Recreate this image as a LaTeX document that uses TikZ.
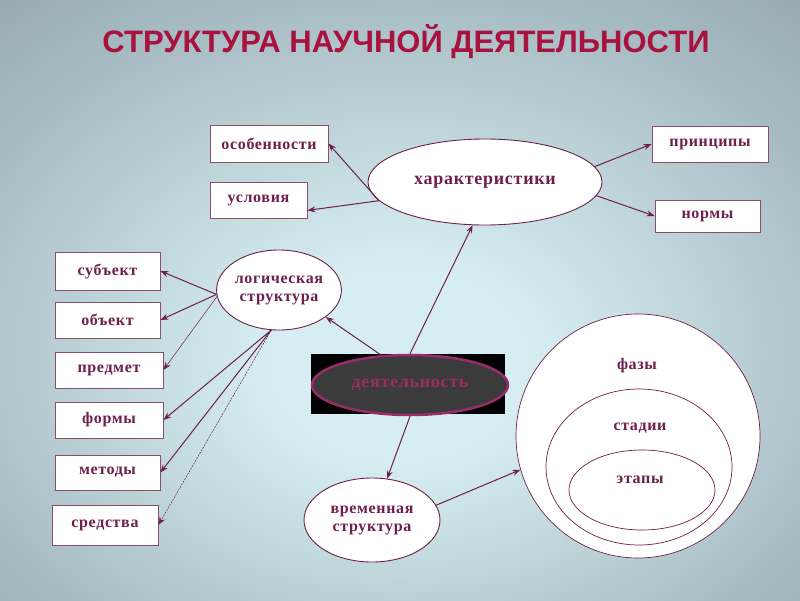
\documentclass[tikz,border=0pt]{standalone}
\usepackage{fontspec}
\setmainfont{Liberation Serif}
\newfontfamily\lsfont[LetterSpace=4]{Liberation Serif}
\newfontfamily\titlefont{Liberation Sans}
\usetikzlibrary{shapes.geometric,arrows.meta}
\definecolor{mag}{HTML}{6E1F4C}
\definecolor{titlec}{HTML}{A8123E}
\definecolor{bgin}{HTML}{D6EEF2}
\definecolor{bgmid}{HTML}{A6BBC1}
\definecolor{bgout}{HTML}{6C7D84}
\definecolor{dring}{HTML}{9A2D68}
\pgfdeclareradialshading{bgshade}{\pgfpoint{0bp}{-6bp}}{color(0bp)=(bgin); color(8bp)=(bgin); color(30bp)=(bgmid); color(60bp)=(bgout); color(80bp)=(bgout)}
\tikzset{
  txt/.style={font=\lsfont\bfseries\fontsize{16}{18}\selectfont, text=mag},
  box/.style={txt, draw=mag!80, line width=0.8pt, fill=white, inner sep=0pt},
  oval/.style={txt, ellipse, draw=mag, line width=0.9pt, fill=white, inner sep=0pt, align=center},
  ring/.style={ellipse, draw=mag, line width=0.7pt, fill=white, inner sep=0pt},
  lbl/.style={txt},
  arr/.style={draw=mag, line width=1pt, -{Stealth[length=8pt,width=6pt]}},
  thinarr/.style={draw=mag, line width=0.5pt, -{Stealth[length=8pt,width=6pt]}}
}
\begin{document}
\begin{tikzpicture}[x=1pt,y=-1pt]
\useasboundingbox (0,0) rectangle (800,600);
\shade[shading=bgshade] (0,0) rectangle (800,600);
\node[font=\titlefont\bfseries\fontsize{31}{34}\selectfont, text=titlec] (title) at (406,42) {СТРУКТУРА НАУЧНОЙ ДЕЯТЕЛЬНОСТИ};

% boxes
\node[box, minimum width=118pt, minimum height=37pt] (osob) at (269,143.5) {особенности};
\node[box, minimum width=97pt, minimum height=36pt] (usl) at (258.5,200) {условия};
\node[box, minimum width=116pt, minimum height=36pt] (princ) at (710,144) {принципы};
\node[box, minimum width=105pt, minimum height=32pt] (norm) at (707.5,216) {нормы};
\node[box, minimum width=105pt, minimum height=38pt] (subj) at (107.5,271) {субъект};
\node[box, minimum width=105pt, minimum height=36pt] (obj) at (107.5,320) {объект};
\node[box, minimum width=108pt, minimum height=36pt] (pred) at (109,370) {предмет};
\node[box, minimum width=108pt, minimum height=36pt] (form) at (109,420) {формы};
\node[box, minimum width=105pt, minimum height=35pt] (met) at (107.5,472.5) {методы};
\node[box, minimum width=106pt, minimum height=40pt] (sred) at (105,525) {средства};

% ovals
\node[oval, minimum width=234pt, minimum height=86pt, font=\lsfont\bfseries\fontsize{18}{21}\selectfont] (char) at (485,182) {характеристики};
\node[oval, minimum width=122pt, minimum height=80pt] (logic) at (279,290) {логическая\\структура};
\node[oval, minimum width=136pt, minimum height=84pt] (vrem) at (372,520) {временная\\структура};

% central
\node[fill=black, minimum width=194pt, minimum height=60pt, inner sep=0pt] (dbox) at (408,384) {};
\node[ellipse, draw=dring, line width=2.5pt, fill=black!77, minimum width=196pt, minimum height=60pt, inner sep=0pt, font=\lsfont\bfseries\fontsize{18}{20}\selectfont, text=dring] (deyat) at (410,385) {деятельность};

% nested circles
\node[ring, minimum width=244pt, minimum height=244pt] (faz) at (638,436) {};
\node[ring, minimum width=186pt, minimum height=156pt] (stad) at (639,467) {};
\node[ring, minimum width=146pt, minimum height=80pt] (etap) at (642,490) {};
\node[lbl] (tfaz) at (637,366) {фазы};
\node[lbl] (tstad) at (640,428) {стадии};
\node[lbl] (tetap) at (640,480) {этапы};

% arrows
\draw[arr] (char.190) -- (osob.east);
\draw[arr] (char.190) -- (usl.-12);
\draw[arr] (char.8) -- (princ.west);
\draw[arr] (char.-7) -- (norm.west);
\draw[arr] (deyat.north) -- (char.254);
\draw[arr] (deyat.134) -- (logic.-30);
\draw[arr] (deyat.south) -- (vrem.70);
\draw[arr] (vrem.13) -- (faz.196);
\draw[arr] (logic.184) -- (subj.east);
\draw[arr] (logic.184) -- (obj.east);
\draw[thinarr] (logic.186) -- (pred.east);
\draw[arr] (logic.259) -- (form.east);
\draw[arr] (logic.259) -- (met.east);
\draw[thinarr, dash pattern=on 2pt off 1pt] (logic.259) -- (sred.east);
\end{tikzpicture}
\end{document}
